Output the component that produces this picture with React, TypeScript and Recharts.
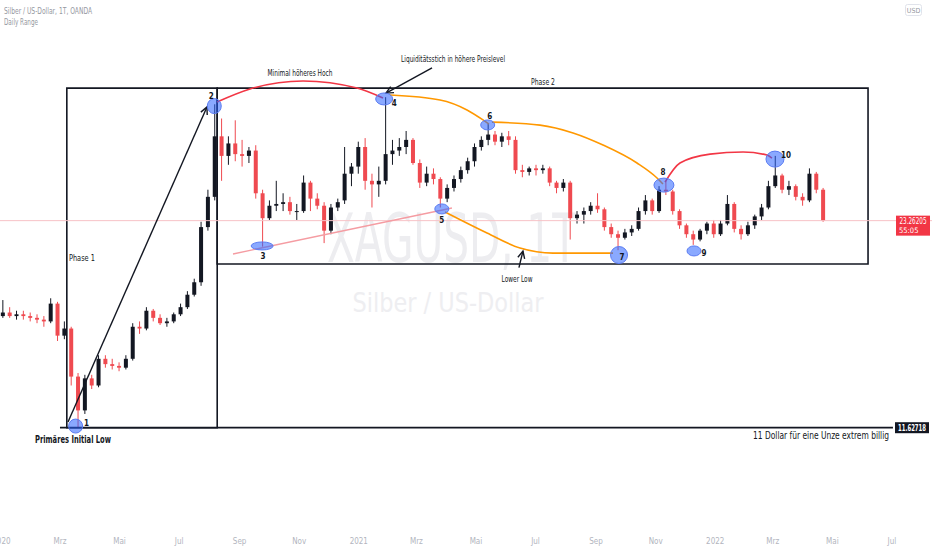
import React from "react";
import {
  Bar,
  ComposedChart,
  Line,
  ReferenceArea,
  ReferenceDot,
  ReferenceLine,
  XAxis,
  YAxis,
} from "recharts";

type Ohlc = [number, number, number, number];

// weekly candles (open, high, low, close), first week starts 2019-12-30
const weekStart = "2019-12-30";

const weeks2020: Ohlc[] = [
  [17.9, 18.8, 17.8, 18.1], [18.1, 18.4, 17.8, 17.9], [17.9, 18.2, 17.7, 18.0], [18.0, 18.2, 17.7, 17.9],
  [17.9, 18.1, 17.6, 17.8], [17.8, 18.0, 17.5, 17.7], [17.7, 17.9, 17.3, 17.6], [17.6, 18.9, 17.5, 18.6],
  [18.6, 18.7, 16.5, 16.8], [16.8, 17.6, 16.6, 17.2], [17.2, 17.3, 14.0, 14.5], [14.5, 14.7, 11.64, 12.6],
  [12.6, 14.6, 12.4, 14.4], [14.4, 14.6, 13.8, 14.0], [14.0, 15.7, 13.9, 15.5], [15.5, 15.7, 15.0, 15.2],
  [15.2, 15.5, 14.9, 15.1], [15.1, 15.3, 14.8, 15.0], [15.0, 15.7, 14.9, 15.5], [15.5, 17.5, 15.4, 17.3],
  [17.3, 17.6, 16.9, 17.2], [17.2, 18.4, 17.1, 18.2], [18.2, 18.3, 17.6, 17.8], [17.8, 18.0, 17.4, 17.5],
  [17.5, 17.8, 17.3, 17.6], [17.6, 18.1, 17.5, 18.0], [18.0, 18.6, 17.9, 18.4], [18.4, 19.3, 18.3, 19.1],
  [19.1, 20.0, 19.0, 19.8], [19.8, 23.2, 19.6, 22.9], [22.9, 25.0, 22.7, 24.6], [24.6, 29.8, 24.4, 28.0],
  [28.0, 29.0, 25.5, 26.9], [26.9, 28.0, 26.4, 27.6], [27.6, 28.9, 26.6, 27.0], [27.0, 27.8, 26.3, 26.9],
  [26.9, 27.4, 26.5, 27.2], [27.2, 27.5, 24.5, 24.8], [24.8, 25.0, 21.8, 23.4], [23.4, 24.4, 23.3, 24.1],
  [24.1, 25.5, 23.8, 24.2], [24.2, 24.8, 23.8, 24.3], [24.3, 24.6, 23.6, 23.8], [23.8, 24.2, 23.3, 23.8],
  [23.8, 25.8, 23.7, 25.4], [25.4, 25.5, 23.8, 24.5], [24.5, 24.8, 23.9, 24.1], [24.1, 24.3, 22.0, 22.7],
  [22.7, 24.2, 22.5, 24.0], [24.0, 24.5, 23.8, 24.3], [24.4, 27.4, 24.2, 25.9], [25.9, 26.5, 25.2, 26.3],
  [26.3, 27.7, 25.9, 27.4],
];

const weeks2021: Ohlc[] = [
  [27.4, 27.9, 25.0, 25.5], [25.5, 25.9, 24.0, 25.3], [25.3, 26.3, 24.6, 25.5], [25.5, 30.2, 25.3, 27.0],
  [27.0, 27.8, 26.4, 27.2], [27.2, 27.9, 26.9, 27.4], [27.4, 28.3, 27.0, 27.8], [27.8, 27.9, 26.4, 26.5],
  [26.5, 26.7, 25.1, 25.4], [25.4, 26.3, 25.2, 25.9], [25.9, 26.2, 25.3, 25.6], [25.6, 25.7, 24.0, 24.5],
  [24.5, 25.3, 24.3, 25.1], [25.1, 25.8, 24.9, 25.6], [25.6, 26.3, 25.4, 26.1], [26.1, 26.8, 25.9, 26.6],
  [26.6, 27.6, 26.3, 27.4], [27.4, 28.0, 27.2, 27.8], [27.8, 28.7, 27.5, 28.1], [28.1, 28.3, 27.5, 27.7],
  [27.7, 28.2, 27.4, 28.0], [28.0, 28.3, 27.5, 27.8], [27.8, 28.0, 25.9, 26.1], [26.1, 26.4, 25.7, 26.0],
  [26.0, 26.3, 25.8, 26.2], [26.2, 26.4, 25.8, 26.1], [26.1, 26.4, 25.9, 26.2], [26.2, 26.3, 25.2, 25.4],
  [25.4, 25.5, 24.8, 25.1], [25.1, 25.6, 24.9, 25.4], [25.4, 25.5, 22.2, 23.4], [23.4, 23.8, 23.1, 23.6],
  [23.6, 24.0, 23.1, 23.8], [23.8, 24.3, 23.6, 24.1], [24.1, 24.8, 23.7, 23.9], [23.9, 24.0, 22.7, 22.9],
  [22.9, 23.1, 22.3, 22.5], [22.5, 22.7, 21.6, 22.3], [22.3, 22.8, 22.2, 22.6], [22.6, 23.0, 22.4, 22.8],
  [22.8, 24.0, 22.7, 23.8], [23.8, 24.7, 23.6, 24.4], [24.4, 24.5, 23.6, 23.8], [23.8, 25.2, 23.7, 25.0],
  [25.0, 25.5, 24.7, 24.9], [24.9, 25.0, 23.6, 23.8], [23.8, 23.9, 22.8, 23.0], [23.0, 23.1, 22.3, 22.5],
  [22.5, 22.7, 21.9, 22.2], [22.2, 22.8, 22.1, 22.7], [22.7, 23.2, 22.5, 23.1], [23.1, 23.3, 22.3, 22.5],
];

const weeks2022: Ohlc[] = [
  [22.5, 23.3, 22.4, 23.1], [23.1, 24.7, 23.0, 24.2], [24.2, 24.3, 22.6, 22.8], [22.8, 23.0, 22.2, 22.5],
  [22.5, 23.2, 22.4, 23.0], [23.0, 23.6, 22.8, 23.5], [23.5, 24.2, 23.3, 24.0], [24.0, 25.5, 23.9, 25.2],
  [25.2, 26.9, 25.1, 25.8], [25.8, 25.9, 24.8, 25.0], [25.0, 25.5, 24.7, 25.2], [25.2, 25.3, 24.4, 24.6],
  [24.6, 24.8, 24.1, 24.4], [24.4, 26.2, 24.3, 25.9], [25.9, 26.0, 24.8, 25.0], [25.0, 25.1, 23.2, 23.26],
];

const lastPrice = 23.26205;
const barCountdown = "55:05";
const initialLow = 11.62718;

const monthTicks = [
  "2020-01-01", "2020-03-01", "2020-05-01", "2020-07-01", "2020-09-01", "2020-11-01",
  "2021-01-01", "2021-03-01", "2021-05-01", "2021-07-01", "2021-09-01", "2021-11-01",
  "2022-01-01", "2022-03-01", "2022-05-01", "2022-07-01",
];
const monthLabels = ["2020", "Mrz", "Mai", "Jul", "Sep", "Nov", "2021", "Mrz", "Mai", "Jul", "Sep", "Nov", "2022", "Mrz", "Mai", "Jul"];
const priceTicks = [6, 8, 10, 12, 14, 16, 18, 20, 22, 24, 26, 28, 30, 32, 34];

// drawings, x in days since 2020-01-01
const swingPoints = [
  { n: "1", day: 76, price: 11.72 },
  { n: "2", day: 218, price: 29.7 },
  { n: "3", day: 267, price: 21.84 },
  { n: "4", day: 392, price: 30.1 },
  { n: "5", day: 451, price: 23.92 },
  { n: "6", day: 498, price: 28.64 },
  { n: "7", day: 632.5, price: 21.33 },
  { n: "8", day: 678.5, price: 25.26 },
  { n: "9", day: 709.3, price: 21.56 },
  { n: "10", day: 792.2, price: 26.72 },
];
const pointMarks: Record<string, { rx: number; ry: number; dx: number; dy: number }> = {
  "1": { rx: 7, ry: 7, dx: 11, dy: -3 },
  "2": { rx: 7, ry: 7.5, dx: -3, dy: -10 },
  "3": { rx: 11, ry: 4, dx: 1, dy: 10 },
  "4": { rx: 8.5, ry: 6, dx: 10, dy: 4 },
  "5": { rx: 7, ry: 5, dx: 0, dy: 11 },
  "6": { rx: 7, ry: 5, dx: 2, dy: -9 },
  "7": { rx: 8.5, ry: 8.5, dx: 3, dy: 2 },
  "8": { rx: 10, ry: 7, dx: -1, dy: -13 },
  "9": { rx: 7, ry: 5, dx: 10, dy: 2 },
  "10": { rx: 9, ry: 8, dx: 11, dy: -4 },
};

const phase1Box = { x1: 67, x2: 221, y1: initialLow, y2: 30.71 };
const phase2Box = { x1: 221, x2: 887.5, y1: 20.83, y2: 30.71 };

const arcHigh1: [number, number][] = [[220.8, 29.93], [254.6, 30.66], [308.9, 31.11], [364.2, 30.71], [390.8, 30.15]];
const arcTop46: [number, number][] = [[398.0, 30.32], [449.2, 30.04], [476.8, 29.48], [493.2, 28.92], [499.3, 28.69]];
const arcTop68: [number, number][] = [[502.4, 28.8], [551.6, 28.63], [585.4, 28.19], [616.1, 27.51], [650.9, 26.5], [671.4, 25.66], [677.5, 25.32]];
const arcLow57: [number, number][] = [[454.3, 23.75], [497.3, 22.57], [531.1, 21.72], [564.9, 21.44], [626.3, 21.44]];
const arcHigh2: [number, number][] = [[679.6, 25.43], [694.9, 26.5], [725.7, 27.0], [759.5, 27.12], [784.0, 26.95], [789.1, 26.78]];

const supportLine: [number, number][] = [[237.2, 21.39], [461.4, 23.97]];
const arrowImpulse: [number, number][] = [[68.2, 11.95], [210.5, 29.65]];
const arrowLiquidity: [number, number][] = [[441, 31.85], [393.9, 30.43]];
const arrowLowerLow: [number, number][] = [[530, 20.62], [534.1, 21.55]];

const notes = [
  { text: "Minimal höheres Hoch", day: 305.8, price: 31.56, w: 65, size: 8, anchor: "middle", bold: false },
  { text: "Liquiditätsstich in höhere Preislevel", day: 462.5, price: 32.34, w: 104, size: 8, anchor: "middle", bold: false },
  { text: "Phase 2", day: 554.6, price: 31.05, w: 24, size: 8.5, anchor: "middle", bold: false },
  { text: "Phase 1", day: 82.5, price: 21.16, w: 26, size: 8.5, anchor: "middle", bold: false },
  { text: "Lower Low", day: 528, price: 19.98, w: 31, size: 8, anchor: "middle", bold: false },
  { text: "Primäres Initial Low", day: 73.3, price: 10.94, w: 76, size: 10, anchor: "middle", bold: true },
  { text: "11 Dollar für eine Unze extrem billig", day: 909, price: 11.22, w: 136, size: 10.5, anchor: "end", bold: false },
];

const FONT = "'DejaVu Sans Condensed', 'Liberation Sans Narrow', Roboto, sans-serif";
const INK = "#131722";
const UP = "#131722";
const DOWN = "#ef4a50";
const BODY_W = 4;

const dayOf = (date: string) => (Date.parse(date) - Date.parse("2020-01-01")) / 86400000;

const candles = [...weeks2020, ...weeks2021, ...weeks2022].map((w, i) => ({
  day: dayOf(weekStart) + i * 7 + 3.5,
  ohlc: w,
  range: [w[2], w[1]],
}));

const toPts = (a: [number, number][]) => a.map(([day, price]) => ({ day, price }));
const seg = (a: [number, number][]) => a.map(([x, y]) => ({ x, y }));

const Candle = (props: any) => {
  const { x, y, width, height, payload } = props;
  const [o, h, l, c] = payload.ohlc as Ohlc;
  const top = Math.min(y, y + height);
  const span = Math.abs(height);
  const ppu = span / (h - l);
  const yOf = (v: number) => top + (h - v) * ppu;
  const color = c >= o ? UP : DOWN;
  const cx = x + (width || 0) / 2;
  const bTop = yOf(Math.max(o, c));
  const bH = Math.max(1, Math.abs(yOf(o) - yOf(c)));
  return (
    <g>
      <line x1={cx} x2={cx} y1={top} y2={top + span} stroke={color} strokeWidth={1} />
      <rect x={cx - BODY_W / 2} y={bTop} width={BODY_W} height={bH} fill={color} />
    </g>
  );
};

const arrowShape = (p: any) => {
  const { x1, y1, x2, y2 } = p;
  const a = Math.atan2(y2 - y1, x2 - x1);
  const len = 8;
  const s = 0.45;
  return (
    <g stroke={INK} strokeWidth={1.4} fill="none">
      <line x1={x1} y1={y1} x2={x2} y2={y2} />
      <polyline
        points={`${x2 - len * Math.cos(a - s)},${y2 - len * Math.sin(a - s)} ${x2},${y2} ${x2 - len * Math.cos(a + s)},${y2 - len * Math.sin(a + s)}`}
      />
    </g>
  );
};

const PriceTick = (p: any) => (
  <text x={926} y={p.y + 3} textAnchor="end" fontSize={8} fill="#b2b5be" fontFamily={FONT} textLength={25} lengthAdjust="spacingAndGlyphs">
    {Number(p.payload.value).toFixed(5)}
  </text>
);

const tickDays = monthTicks.map(dayOf);
const TimeTick = (p: any) => {
  const idx = tickDays.findIndex((d) => Math.abs(d - p.payload.value) < 0.5);
  return (
    <text x={p.x} y={544} textAnchor="middle" fontSize={8} fill="#b2b5be" fontFamily={FONT}>
      {monthLabels[idx]}
    </text>
  );
};

export default function App() {
  return (
    <div style={{ position: "absolute", left: 0, top: 0, width: 932, height: 550, background: "#fff", overflow: "hidden" }}>
      <svg width={932} height={550} style={{ position: "absolute", left: 0, top: 0 }}>
        <text x={4} y={14} fontSize={8.5} fill="#9598a1" fontFamily={FONT} textLength={88} lengthAdjust="spacingAndGlyphs">
          Silber / US-Dollar, 1T, OANDA
        </text>
        <text x={4} y={25} fontSize={8.5} fill="#9598a1" fontFamily={FONT} textLength={34} lengthAdjust="spacingAndGlyphs">
          Daily Range
        </text>
        <rect x={905.5} y={4.5} width={16} height={11} rx={2} fill="#fff" stroke="#e0e3eb" />
        <text x={913.5} y={13} fontSize={7} fill="#9598a1" fontFamily={FONT} textAnchor="middle">USD</text>
        <text x={452} y={262} fontSize={68} fill="#ededf0" fontFamily={FONT} textAnchor="middle" textLength={250} lengthAdjust="spacingAndGlyphs">
          XAGUSD, 1T
        </text>
        <text x={448} y={312} fontSize={27} fill="#eeeef1" fontFamily={FONT} textAnchor="middle" textLength={191} lengthAdjust="spacingAndGlyphs">
          Silber / US-Dollar
        </text>
      </svg>
      <div style={{ position: "absolute", left: 0, top: 0 }}>
        <ComposedChart width={932} height={550} data={candles} margin={{ top: 0, right: 0, bottom: 0, left: 0 }}>
          <XAxis
            dataKey="day"
            type="number"
            domain={[-1.43, 953.0]}
            allowDataOverflow
            ticks={tickDays}
            interval={0}
            tick={TimeTick}
            axisLine={false}
            tickLine={false}
            height={20}
          />
          <YAxis
            orientation="right"
            type="number"
            domain={[5.88, 35.66]}
            allowDataOverflow
            ticks={priceTicks}
            interval={0}
            tick={PriceTick}
            axisLine={false}
            tickLine={false}
            width={0}
          />
          <ReferenceLine y={lastPrice} stroke="#f7c2c6" strokeWidth={1} ifOverflow="visible" />
          <Bar dataKey="range" barSize={4} shape={Candle} isAnimationActive={false} />

          <ReferenceArea {...phase1Box} fill="none" stroke={INK} strokeWidth={1.6} ifOverflow="visible" />
          <ReferenceArea {...phase2Box} fill="none" stroke={INK} strokeWidth={1.6} ifOverflow="visible" />
          <ReferenceLine
            segment={[{ x: 60, y: initialLow }, { x: 913, y: initialLow }]}
            stroke={INK}
            strokeWidth={1.8}
            ifOverflow="visible"
          />
          <ReferenceLine segment={seg(supportLine)} stroke="#f59ca2" strokeWidth={1.4} ifOverflow="visible" />

          <Line data={toPts(arcHigh1)} dataKey="price" type="monotone" stroke="#f23645" strokeWidth={1.6} dot={false} activeDot={false} isAnimationActive={false} />
          <Line data={toPts(arcTop46)} dataKey="price" type="monotone" stroke="#ff9800" strokeWidth={1.6} dot={false} activeDot={false} isAnimationActive={false} />
          <Line data={toPts(arcTop68)} dataKey="price" type="monotone" stroke="#ff9800" strokeWidth={1.6} dot={false} activeDot={false} isAnimationActive={false} />
          <Line data={toPts(arcLow57)} dataKey="price" type="monotone" stroke="#ff9800" strokeWidth={1.6} dot={false} activeDot={false} isAnimationActive={false} />
          <Line data={toPts(arcHigh2)} dataKey="price" type="monotone" stroke="#f23645" strokeWidth={1.6} dot={false} activeDot={false} isAnimationActive={false} />

          <ReferenceLine segment={seg(arrowImpulse)} shape={arrowShape} ifOverflow="visible" />
          <ReferenceLine segment={seg(arrowLiquidity)} shape={arrowShape} ifOverflow="visible" />
          <ReferenceLine segment={seg(arrowLowerLow)} shape={arrowShape} ifOverflow="visible" />

          {swingPoints.map((p) => {
            const m = pointMarks[p.n];
            return (
              <ReferenceDot
                key={"pt" + p.n}
                x={p.day}
                y={p.price}
                r={m.rx}
                ifOverflow="visible"
                shape={(s: any) => (
                  <g>
                    <ellipse cx={s.cx} cy={s.cy} rx={m.rx} ry={m.ry} fill="rgba(41,98,255,0.55)" stroke="#5b7cf2" strokeWidth={1} />
                    <text x={s.cx + m.dx} y={s.cy + m.dy + 3} fontSize={8} fontWeight={600} fill={INK} fontFamily={FONT} textAnchor="middle">
                      {p.n}
                    </text>
                  </g>
                )}
              />
            );
          })}

          {notes.map((n) => (
            <ReferenceDot
              key={n.text}
              x={n.day}
              y={n.price}
              r={1}
              ifOverflow="visible"
              shape={(s: any) => (
                <text
                  x={s.cx}
                  y={s.cy + n.size * 0.35}
                  fontSize={n.size}
                  fontWeight={n.bold ? 600 : 400}
                  fill={INK}
                  fontFamily={FONT}
                  textAnchor={n.anchor as any}
                  textLength={n.w}
                  lengthAdjust="spacingAndGlyphs"
                >
                  {n.text}
                </text>
              )}
            />
          ))}

          <ReferenceDot
            x={933.5}
            y={lastPrice}
            r={1}
            ifOverflow="visible"
            shape={(s: any) => (
              <g fontFamily={FONT}>
                <rect x={896} y={s.cy - 5} width={34} height={20} fill="#f23645" />
                <text x={913} y={s.cy + 3} fontSize={8} fill="#fff" textAnchor="middle" textLength={27} lengthAdjust="spacingAndGlyphs">
                  {lastPrice.toFixed(5)}
                </text>
                <text x={899} y={s.cy + 12} fontSize={7.5} fill="#fff">{barCountdown}</text>
              </g>
            )}
          />
          <ReferenceDot
            x={933.5}
            y={initialLow}
            r={1}
            ifOverflow="visible"
            shape={(s: any) => (
              <g fontFamily={FONT}>
                <rect x={895} y={s.cy - 5.5} width={34} height={11} fill={INK} />
                <text x={912} y={s.cy + 3} fontSize={8} fontWeight={600} fill="#fff" textAnchor="middle" textLength={28} lengthAdjust="spacingAndGlyphs">
                  {initialLow.toFixed(5)}
                </text>
              </g>
            )}
          />
        </ComposedChart>
      </div>
    </div>
  );
}
